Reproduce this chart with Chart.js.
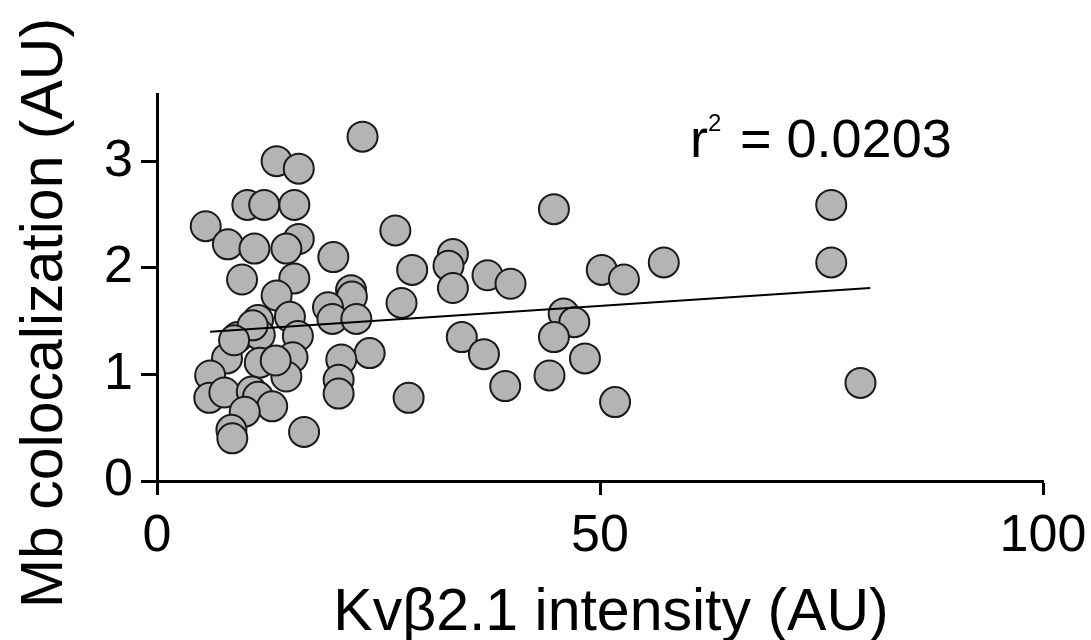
<!DOCTYPE html>
<html lang="en">
  <head>
    <meta charset="UTF-8" />
    <title>Mb colocalization vs Kvβ2.1 intensity</title>
    <script src="https://cdn.jsdelivr.net/npm/chart.js"></script>
    <style>
      html, body { margin: 0; padding: 0; background: #fff; }
      #wrap { width: 1091px; height: 640px; }
    </style>
  </head>
  <body>
    <div id="wrap"><canvas id="myChart" width="1091" height="640"></canvas></div>

    <script>
      // values
      const kvIntensity = [
        23.2, 13.5, 16.0, 10.2, 12.1, 15.5, 5.5, 8.0, 11.0, 16.0, 14.6, 19.9, 26.9,
        9.6, 15.5, 13.5, 21.9, 22.0, 19.3, 19.8, 22.5, 27.6, 11.4, 15.0, 9.1, 11.6,
        15.9, 7.9, 11.6, 15.3, 14.6, 24.0, 20.8, 20.5, 20.5, 6.0, 5.9, 7.6, 10.7,
        11.4, 13.0, 9.9, 8.4, 8.5, 16.6, 28.4, 28.8, 44.8, 33.4, 32.9, 33.4, 37.3,
        39.9, 50.2, 52.7, 57.2, 45.9, 47.1, 44.8, 34.4, 36.9, 48.3, 39.3, 44.3,
        51.7, 76.1, 76.1, 79.4, 13.4, 10.8, 8.7
      ];
      const mbColoc = [
        3.23, 3.00, 2.93, 2.59, 2.59, 2.59, 2.39, 2.22, 2.18, 2.27, 2.18, 2.10, 2.35,
        1.89, 1.90, 1.74, 1.79, 1.73, 1.63, 1.52, 1.52, 1.67, 1.51, 1.54, 1.35, 1.37,
        1.36, 1.15, 1.11, 1.16, 0.98, 1.20, 1.14, 0.95, 0.82, 0.99, 0.78, 0.83, 0.84,
        0.79, 0.70, 0.65, 0.48, 0.40, 0.46, 0.78, 1.98, 2.55, 2.13, 2.02, 1.81, 1.93,
        1.85, 1.98, 1.89, 2.05, 1.57, 1.49, 1.35, 1.35, 1.19, 1.15, 0.89, 0.99,
        0.74, 2.59, 2.05, 0.92, 1.13, 1.46, 1.32
      ];
      const fitX = [6.0, 80.5];
      const fitY = [1.40, 1.81];
      const xTicks = [0, 50, 100];
      const yTicks = [0, 1, 2, 3];
      const xTitle = 'Kvβ2.1 intensity (AU)';
      const yTitle = 'Mb colocalization (AU)';
      const r2Value = '0.0203';

      const FONT = '"Liberation Sans", Arial, Helvetica, sans-serif';

      const scatterPts = kvIntensity.map((x, i) => ({ x: x, y: mbColoc[i] }));
      const fitPts = fitX.map((x, i) => ({ x: x, y: fitY[i] }));

      // axis titles and the r^2 note
      const labelsPlugin = {
        id: 'labels',
        afterDraw(chart) {
          const ctx = chart.ctx;
          ctx.save();
          ctx.fillStyle = '#000';
          ctx.font = '59px ' + FONT;
          ctx.textAlign = 'center';
          ctx.textBaseline = 'alphabetic';
          ctx.fillText(xTitle, 611, 630);

          ctx.translate(62, 313);
          ctx.rotate(-Math.PI / 2);
          ctx.fillText(yTitle, 0, 0);
          ctx.restore();

          ctx.save();
          ctx.fillStyle = '#000';
          ctx.textAlign = 'left';
          ctx.textBaseline = 'alphabetic';
          ctx.font = '54px ' + FONT;
          ctx.fillText('r', 690, 157);
          ctx.font = '24px ' + FONT;
          ctx.fillText('2', 708, 131);
          ctx.font = '54px ' + FONT;
          ctx.fillText('= ' + r2Value, 740, 157);
          ctx.restore();
        }
      };

      window.addEventListener('load', setup);

      function setup() {
        const ctx = document.getElementById('myChart').getContext('2d');

        const points = {
          type: 'scatter',
          label: 'cells',
          data: scatterPts,
          backgroundColor: '#b4b4b4',
          borderColor: '#1a1a1a',
          borderWidth: 2,
          pointRadius: 15,
          order: 2
        };

        const fit = {
          type: 'line',
          label: 'fit',
          data: fitPts,
          borderColor: '#000',
          borderWidth: 2,
          pointRadius: 0,
          fill: false,
          order: 1
        };

        const myChart = new Chart(ctx, {
          type: 'scatter',
          data: { datasets: [points, fit] },
          options: {
            responsive: false,
            animation: false,
            layout: { padding: { top: 94, right: 48, left: 0, bottom: 0 } },
            plugins: { legend: { display: false }, tooltip: { enabled: false } },
            scales: {
              x: {
                type: 'linear',
                min: 0,
                max: 100,
                afterBuildTicks: s => { s.ticks = xTicks.map(v => ({ value: v })); },
                afterFit: s => { s.height = 159; s.paddingLeft = 0; s.paddingRight = 0; },
                ticks: { color: '#000', font: { size: 52, family: FONT }, padding: 10, maxRotation: 0 },
                border: { color: '#000', width: 3 },
                grid: { drawOnChartArea: false, tickLength: 14, tickWidth: 3, tickColor: '#000' }
              },
              y: {
                type: 'linear',
                min: 0,
                max: 3.63,
                afterBuildTicks: s => { s.ticks = yTicks.map(v => ({ value: v })); },
                afterFit: s => { s.width = 157; s.paddingTop = 0; s.paddingBottom = 0; },
                ticks: { color: '#000', font: { size: 52, family: FONT }, padding: 8 },
                border: { color: '#000', width: 3 },
                grid: { drawOnChartArea: false, tickLength: 16, tickWidth: 3, tickColor: '#000' }
              }
            }
          },
          plugins: [labelsPlugin]
        });
      }
    </script>
  </body>
</html>
